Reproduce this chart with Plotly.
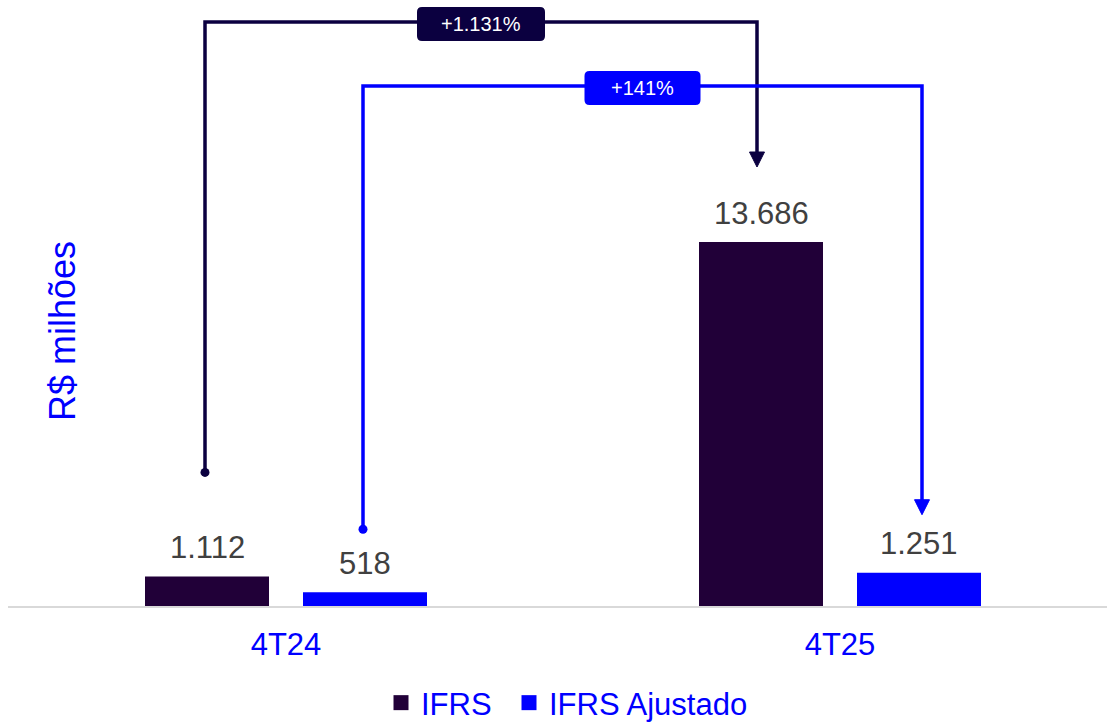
import plotly.graph_objects as go

# ---- data ----
categories = ["4T24", "4T25"]
ifrs = [1112, 13686]
ifrs_ajustado = [518, 1251]
series_names = ["IFRS", "IFRS Ajustado"]
growth_labels = ["+1.131%", "+141%"]
value_labels_ifrs = ["1.112", "13.686"]
value_labels_aj = ["518", "1.251"]
y_title = "R$ milhões"

# ---- style ----
W, H = 1107, 722
ML, MR, MT, MB = 8, 0, 0, 116
PW, PH = W - ML - MR, H - MT - MB
DARK_BAR = "#210038"
DARK_LINE = "#0b0040"
BLUE = "#0000ff"
GRAY_TXT = "#404040"
FONT = "Liberation Sans, Arial, sans-serif"

px_per_x = 554.0
x0 = -278.0 / px_per_x
x1 = x0 + PW / px_per_x
px_per_y = 364.0 / max(ifrs)
y1 = PH / px_per_y

bar_w = 124 / px_per_x
off_ifrs = -141 / px_per_x
off_aj = 17 / px_per_x

def dx(p):
    return p / px_per_x

def dy(p):
    return p / px_per_y

xs = list(range(len(categories)))
fig = go.Figure()
fig.add_bar(x=xs, y=ifrs, name=series_names[0], marker_color=DARK_BAR,
            width=bar_w, offset=off_ifrs, marker_line_width=0, showlegend=False)
fig.add_bar(x=xs, y=ifrs_ajustado, name=series_names[1], marker_color=BLUE,
            width=bar_w, offset=off_aj, marker_line_width=0, showlegend=False)
# legend entries (square swatches), one legend each for exact placement
for nm, col, lg in zip(series_names, [DARK_BAR, BLUE], ["legend", "legend2"]):
    fig.add_scatter(x=[None], y=[None], mode="markers", name=nm, legend=lg,
                    marker=dict(symbol="square", size=15, color=col))

annotations = []
# value labels
for i in xs:
    for vals, labs, off in ((ifrs, value_labels_ifrs, off_ifrs), (ifrs_ajustado, value_labels_aj, off_aj)):
        annotations.append(dict(x=i + off + bar_w / 2, y=vals[i], text=labs[i], showarrow=False,
                                yanchor="middle", yshift=29,
                                font=dict(size=31, color=GRAY_TXT, family=FONT)))

shapes = []
top = max(ifrs)

def bracket(vals, off, start_px, top_px, tip_px, color, label, lbl_w, shift_a, shift_b):
    xa = 0 + off + bar_w / 2 + dx(shift_a)
    xb = 1 + off + bar_w / 2 + dx(shift_b)
    ya = vals[0] + dy(start_px)
    yt = top + dy(top_px)
    yb = vals[1] + dy(tip_px)
    head = 15
    path = f"M{xa},{ya} L{xa},{yt} L{xb},{yt} L{xb},{yb + dy(head - 2)}"
    shapes.append(dict(type="path", path=path, line=dict(color=color, width=3.5), layer="above"))
    hw = 7.5
    tri = f"M{xb - dx(hw)},{yb + dy(head)} L{xb + dx(hw)},{yb + dy(head)} L{xb},{yb} Z"
    shapes.append(dict(type="path", path=tri, fillcolor=color, line=dict(color=color, width=1), layer="above"))
    r = 4.5
    shapes.append(dict(type="circle", x0=xa - dx(r), x1=xa + dx(r), y0=ya - dy(r), y1=ya + dy(r),
                       fillcolor=color, line=dict(color=color, width=0), layer="above"))
    xm = (xa + xb) / 2
    bw, bh, rr = lbl_w, 34, 5
    L, R = xm - dx(bw / 2), xm + dx(bw / 2)
    B, T = yt - dy(bh / 2) - dy(2), yt + dy(bh / 2) - dy(2)
    p = (f"M{L + dx(rr)},{T} L{R - dx(rr)},{T} Q{R},{T} {R},{T - dy(rr)} "
         f"L{R},{B + dy(rr)} Q{R},{B} {R - dx(rr)},{B} L{L + dx(rr)},{B} "
         f"Q{L},{B} {L},{B + dy(rr)} L{L},{T - dy(rr)} Q{L},{T} {L + dx(rr)},{T} Z")
    shapes.append(dict(type="path", path=p, fillcolor=color, line=dict(color=color, width=0), layer="above"))
    annotations.append(dict(x=xm, y=(B + T) / 2, text=label, showarrow=False,
                            font=dict(size=20, color="white", family=FONT)))

bracket(ifrs, off_ifrs, 104, 220, 75, DARK_LINE, growth_labels[0], 128, -2, -4)
bracket(ifrs_ajustado, off_aj, 63, 156, 58, BLUE, growth_labels[1], 116, -2, 3)

annotations.append(dict(xref="paper", yref="paper", x=(62 - ML) / PW, y=(PH - 331) / PH,
                        xanchor="center", yanchor="middle",
                        text=y_title, textangle=-90, showarrow=False,
                        font=dict(size=36, color=BLUE, family=FONT)))

legend_common = dict(orientation="h", xanchor="left", yref="container", y=(H - 703) / H,
                     yanchor="middle", font=dict(size=31, color=BLUE, family=FONT),
                     itemclick=False, itemwidth=30, bgcolor="rgba(0,0,0,0)")

fig.update_layout(
    width=W, height=H,
    margin=dict(l=ML, r=MR, t=MT, b=MB, autoexpand=False),
    paper_bgcolor="white", plot_bgcolor="white",
    font=dict(family=FONT),
    barmode="group",
    showlegend=True,
    legend=dict(x=(381 - ML) / PW, **legend_common),
    legend2=dict(x=(509 - ML) / PW, **legend_common),
    xaxis=dict(range=[x0, x1], tickvals=xs, ticktext=categories, showgrid=False, zeroline=False,
               showline=True, linecolor="#d9d9d9", linewidth=2, ticks="",
               ticklabelstandoff=10,
               tickfont=dict(size=31, color=BLUE, family=FONT), fixedrange=True),
    yaxis=dict(range=[0, y1], visible=False, showgrid=False, zeroline=False, fixedrange=True),
    shapes=shapes,
    annotations=annotations,
)

fig.write_html("out.html", config={"displayModeBar": False},
               post_script="document.body.style.margin='0';document.body.style.overflow='hidden';")
